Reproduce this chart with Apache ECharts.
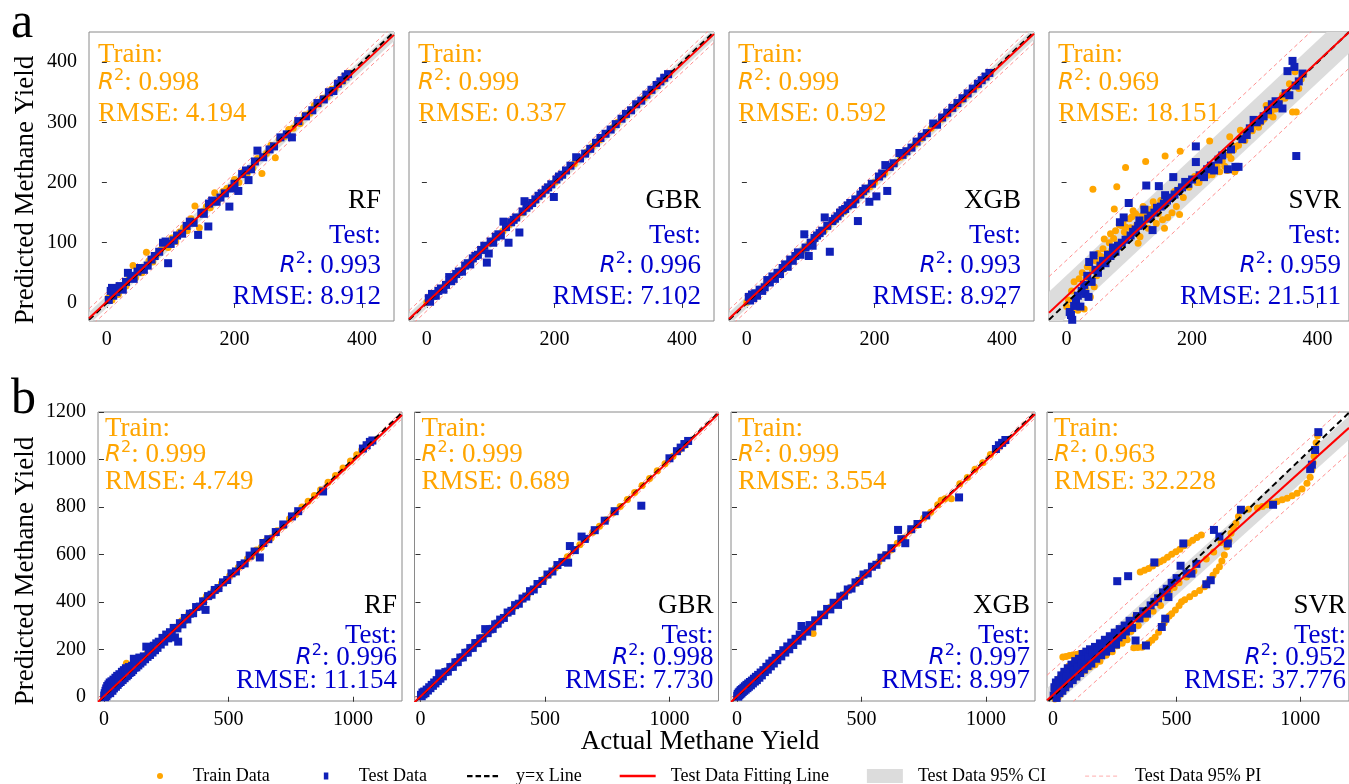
<!DOCTYPE html>
<html><head><meta charset="utf-8">
<script src="https://cdn.jsdelivr.net/npm/echarts@6.0.0/dist/echarts.min.js"></script>
<style>html,body{margin:0;padding:0;background:#fff;}#chart{width:1349px;height:784px;}</style>
</head><body><div id="chart"></div>
<script>
// ---------------- data ----------------
const MODELS = ['RF', 'GBR', 'XGB', 'SVR'];

// row a metrics
const A_TRAIN_R2 = ['0.998', '0.999', '0.999', '0.969'];
const A_TRAIN_RMSE = ['4.194', '0.337', '0.592', '18.151'];
const A_TEST_R2 = ['0.993', '0.996', '0.993', '0.959'];
const A_TEST_RMSE = ['8.912', '7.102', '8.927', '21.511'];
// row b metrics
const B_TRAIN_R2 = ['0.999', '0.999', '0.999', '0.963'];
const B_TRAIN_RMSE = ['4.749', '0.689', '3.554', '32.228'];
const B_TEST_R2 = ['0.996', '0.998', '0.997', '0.952'];
const B_TEST_RMSE = ['11.154', '7.730', '8.997', '37.776'];

// fitted test line [slope, intercept], CI and PI half widths
const A_FIT = [[0.985, 2], [0.99, 1], [0.99, 1.5], [0.975, 11]];
const A_CI = [10, 9, 10, 35];
const A_PI = [16, 14, 15, 60];
const B_FIT = [[0.99, 2], [0.995, 1], [0.993, 2], [0.94, 8]];
const B_CI = [9, 8, 9, 50];
const B_PI = [16, 14, 16, 105];

// axis ranges and ticks
const A_RANGE = [-28, 450, -30, 450];
const B_RANGE = [-24, 1197, -18, 1200];
const A_XTICKS = [0, 200, 400];
const A_YTICKS = [0, 100, 200, 300, 400];
const B_XTICKS = [0, 500, 1000];
const B_YTICKS = [0, 200, 400, 600, 800, 1000, 1200];

// ---- row a : points [actual, predicted]
const aRF_train = [[2,8],[5,12],[8,5],[10,15],[14,18],[18,14],[22,25],[26,30],[30,28],[35,40],[41,62],[45,42],[50,55],[55,50],[62,84],[66,70],[72,68],[78,80],[84,88],[90,95],[96,92],[102,108],[108,102],[114,118],[120,125],[126,120],[132,140],[138,161],[145,125],[150,152],[156,160],[162,158],[169,183],[175,172],[182,185],[188,190],[195,192],[200,205],[207,200],[214,218],[220,215],[229,224],[236,240],[243,215],[250,248],[257,262],[264,241],[270,272],[278,276],[285,288],[292,290],[298,300],[303,298],[310,312],[318,315],[325,328],[332,330],[338,340],[345,342],[352,355],[358,356],[364,366],[370,368],[375,378],[380,382]];
const aRF_test = [[3,5],[6,20],[8,25],[10,12],[12,22],[15,18],[20,28],[25,22],[30,35],[33,50],[38,45],[42,40],[48,52],[52,58],[58,55],[64,62],[70,72],[75,78],[82,85],[88,100],[92,102],[96,66],[100,98],[105,104],[110,112],[118,115],[125,128],[130,135],[136,133],[143,113],[148,150],[152,148],[159,127],[160,165],[165,170],[172,168],[178,175],[185,182],[192,160],[196,190],[200,198],[206,186],[212,214],[218,220],[222,204],[226,222],[232,235],[236,253],[245,242],[255,255],[262,260],[272,275],[282,280],[290,275],[300,302],[312,310],[322,320],[330,332],[340,338],[348,350],[355,352],[362,364],[368,370],[374,376],[378,380]];
const aGBR_train = [[0,1],[6,7],[11,11],[19,20],[27,27],[36,36],[44,45],[53,53],[61,62],[70,70],[79,80],[88,88],[99,99],[108,109],[119,119],[129,130],[141,141],[150,150],[161,162],[170,170],[181,181],[190,191],[201,201],[212,212],[219,220],[231,231],[240,241],[251,251],[259,260],[271,271],[280,281],[291,291],[299,300],[311,311],[320,321],[329,329],[341,341],[350,351],[359,359],[371,371],[380,381]];
const aGBR_test = [[3,8],[5,2],[8,15],[10,12],[14,12],[18,20],[22,24],[26,22],[30,30],[35,43],[38,36],[42,40],[46,48],[50,52],[55,52],[60,62],[64,66],[68,64],[72,74],[76,78],[80,80],[85,88],[90,95],[94,67],[97,82],[100,102],[104,100],[108,110],[112,114],[116,112],[120,135],[124,126],[128,100],[132,134],[136,138],[140,142],[145,117],[150,152],[153,169],[156,158],[160,162],[165,166],[170,172],[175,178],[180,182],[186,188],[190,192],[195,197],[199,176],[203,205],[207,210],[212,213],[218,220],[225,228],[234,242],[240,240],[248,248],[256,256],[265,266],[272,274],[280,281],[288,288],[296,297],[305,306],[312,314],[320,320],[328,330],[336,336],[344,346],[352,354],[360,362],[366,368],[372,374],[378,380]];
const aXGB_train = [[0,1],[7,8],[15,16],[24,23],[31,32],[40,40],[47,48],[57,56],[63,64],[72,72],[81,82],[88,88],[97,97],[105,104],[111,112],[121,120],[128,129],[137,136],[144,145],[153,152],[159,160],[168,168],[177,178],[184,184],[193,193],[200,200],[209,210],[216,216],[225,225],[232,232],[241,242],[248,248],[257,257],[264,264],[273,273],[280,280],[289,290],[296,296],[305,305],[312,312],[321,322],[328,328],[337,337],[344,344],[353,354],[360,360],[369,369],[376,376],[382,383]];
const aXGB_test = [[3,10],[5,4],[8,14],[10,8],[13,16],[16,12],[20,22],[24,20],[28,26],[32,38],[36,34],[40,44],[44,40],[48,50],[52,48],[56,58],[60,64],[64,60],[68,72],[72,70],[76,78],[80,84],[84,80],[90,114],[92,92],[97,78],[100,100],[103,95],[106,108],[110,112],[114,116],[118,120],[122,142],[126,128],[130,85],[134,136],[138,140],[142,144],[146,150],[150,154],[154,156],[158,162],[162,166],[166,164],[170,172],[174,136],[178,180],[182,186],[186,190],[192,168],[196,198],[203,177],[207,210],[212,215],[217,229],[220,186],[224,226],[230,232],[239,249],[244,246],[250,252],[258,258],[266,268],[274,276],[282,282],[292,298],[298,296],[306,308],[314,316],[322,324],[330,332],[338,340],[346,348],[354,356],[362,364],[368,370],[374,376],[380,382]];
const aSVR_train = [[0,-6],[3,5],[5,-14],[8,20],[10,-8],[12,35],[15,5],[18,-12],[20,40],[22,15],[25,50],[28,-10],[30,25],[33,60],[36,38],[38,10],[41,55],[42,189],[44,27],[46,70],[48,45],[50,82],[52,65],[55,77],[58,90],[60,106],[62,72],[65,82],[68,100],[70,115],[72,88],[75,107],[76,156],[78,120],[80,193],[82,98],[84,130],[86,93],[88,128],[90,135],[92,118],[94,126],[94,225],[96,110],[100,140],[102,125],[104,143],[106,153],[108,118],[110,148],[112,130],[114,99],[117,110],[120,145],[122,160],[124,135],[126,235],[128,150],[130,124],[133,155],[136,140],[138,168],[140,160],[143,132],[146,148],[150,170],[153,138],[156,124],[157,244],[160,165],[161,142],[165,175],[168,150],[172,185],[175,160],[180,147],[181,252],[182,192],[186,175],[190,200],[195,192],[200,205],[204,210],[208,200],[211,200],[215,209],[220,220],[225,212],[228,269],[232,213],[236,225],[240,226],[244,218],[248,235],[252,227],[256,220],[258,246],[260,276],[262,240],[266,254],[268,218],[270,260],[274,262],[277,287],[280,276],[284,270],[288,282],[292,290],[296,286],[298,303],[302,296],[306,292],[310,300],[314,305],[318,328],[322,312],[326,318],[329,309],[333,322],[336,330],[340,336],[344,345],[348,340],[352,350],[355,364],[360,317],[364,384],[366,317],[370,356],[374,372],[378,380]];
const aSVR_test = [[5,-15],[7,-20],[9,-28],[12,-5],[15,5],[18,12],[22,-6],[24,20],[28,30],[30,15],[33,45],[35,10],[36,68],[40,35],[43,79],[46,55],[50,50],[54,62],[58,70],[62,66],[66,80],[70,78],[74,92],[78,85],[82,95],[85,134],[88,100],[91,142],[94,105],[99,166],[102,112],[106,118],[110,122],[114,128],[116,137],[120,130],[124,155],[127,195],[130,140],[134,145],[137,121],[140,150],[144,158],[147,194],[150,160],[155,165],[157,179],[160,170],[165,175],[170,209],[172,180],[178,186],[184,192],[189,201],[194,198],[200,205],[206,234],[206,260],[212,212],[219,209],[224,222],[230,228],[235,220],[242,238],[248,245],[257,222],[262,255],[269,226],[274,226],[280,272],[287,279],[292,290],[298,304],[303,300],[308,303],[314,310],[321,320],[327,330],[333,335],[338,330],[344,323],[349,348],[352,385],[355,345],[360,402],[363,392],[365,361],[366,244],[370,368],[376,381]];

// ---- row b : points [actual, predicted]
const bRF_train = [[0,2],[2,10],[4,0],[6,16],[8,5],[10,22],[12,10],[14,28],[16,14],[18,32],[20,18],[24,36],[28,22],[32,42],[36,30],[40,50],[44,38],[48,58],[52,46],[56,64],[60,54],[65,72],[70,62],[75,82],[80,72],[85,92],[90,141],[95,100],[100,94],[108,116],[116,110],[124,132],[132,126],[140,148],[148,142],[156,164],[164,158],[172,180],[180,174],[190,198],[200,194],[212,220],[224,218],[236,244],[248,242],[260,268],[272,266],[285,293],[298,292],[312,320],[326,320],[340,348],[355,350],[370,378],[385,380],[400,408],[412,425],[425,422],[440,446],[456,452],[472,478],[488,486],[505,510],[522,520],[540,546],[558,556],[576,582],[594,592],[612,618],[632,630],[652,658],[672,670],[695,700],[720,718],[745,750],[770,768],[795,800],[820,824],[845,848],[870,872],[900,904],[930,932],[960,964],[990,994],[1015,1020],[1035,1040],[1050,1056],[1062,1068],[1075,1080]];
const bRF_test = [[1,5],[3,15],[4,-2],[6,25],[7,8],[9,35],[10,2],[12,18],[13,45],[15,10],[16,28],[18,52],[19,20],[21,38],[23,60],[25,15],[26,45],[28,30],[30,65],[32,40],[34,25],[36,55],[38,72],[40,35],[42,60],[44,48],[46,80],[48,42],[50,65],[53,88],[55,50],[57,70],[60,58],[62,95],[64,75],[67,62],[70,85],[72,105],[75,70],[78,90],[80,112],[83,78],[86,98],[88,120],[91,86],[94,105],[97,92],[100,125],[103,100],[106,118],[110,104],[113,130],[117,112],[120,160],[123,122],[127,140],[130,124],[134,150],[138,132],[142,165],[146,140],[150,158],[155,148],[160,170],[165,158],[170,211],[175,168],[180,190],[185,176],[190,205],[195,186],[200,215],[205,196],[210,225],[215,206],[220,232],[228,220],[235,248],[242,232],[250,262],[258,246],[265,272],[272,262],[280,290],[285,250],[295,288],[298,232],[305,310],[315,305],[325,332],[335,326],[345,350],[358,352],[370,378],[385,380],[398,402],[408,366],[418,424],[432,430],[445,450],[460,458],[478,482],[495,492],[512,520],[530,528],[548,555],[565,562],[585,595],[605,612],[626,587],[640,648],[660,664],[690,694],[720,726],[755,760],[780,782],[880,865],[1040,1046],[1055,1060],[1068,1074],[1078,1080]];
const bGBR_train = [[0,1],[3,4],[7,7],[11,12],[16,16],[21,21],[27,28],[33,33],[40,40],[47,48],[55,55],[63,63],[72,72],[81,82],[90,90],[100,100],[111,111],[122,123],[134,134],[146,146],[159,160],[172,172],[186,186],[200,201],[215,215],[230,230],[246,247],[262,262],[279,279],[296,297],[314,314],[332,332],[351,352],[370,370],[390,390],[410,411],[431,431],[452,452],[474,475],[496,496],[519,519],[542,543],[566,566],[590,590],[615,616],[640,640],[666,666],[692,693],[719,719],[746,746],[774,775],[802,802],[831,831],[860,861],[890,890],[920,920],[951,952],[982,982],[1014,1014],[1040,1041],[1058,1058],[1075,1076]];
const bGBR_test = [[2,8],[5,2],[8,18],[12,10],[15,22],[20,15],[25,30],[30,26],[35,40],[40,36],[45,50],[50,46],[55,60],[60,56],[65,70],[70,66],[75,98],[80,76],[85,90],[90,86],[100,104],[110,106],[120,125],[130,126],[140,145],[150,146],[160,165],[170,166],[180,185],[190,186],[200,205],[210,206],[220,226],[230,226],[240,245],[250,246],[260,285],[270,268],[280,284],[290,286],[300,305],[310,308],[320,325],[335,332],[350,355],[365,362],[380,386],[395,392],[410,414],[425,422],[440,445],[455,452],[470,475],[490,488],[510,515],[530,528],[550,555],[570,568],[593,565],[600,635],[620,618],[647,675],[660,665],[700,702],[740,742],[780,782],[887,805],[1000,1005],[1030,1035],[1045,1050],[1060,1065],[1075,1078]];
const bXGB_train = [[0,3],[3,6],[6,4],[10,14],[14,12],[19,22],[24,22],[30,34],[36,35],[43,46],[50,49],[58,61],[66,65],[75,78],[84,83],[94,97],[104,103],[115,118],[126,125],[138,141],[150,149],[163,166],[176,175],[190,193],[204,203],[219,222],[234,233],[250,253],[266,265],[283,286],[306,267],[318,317],[336,339],[355,354],[374,377],[394,393],[414,417],[435,434],[456,459],[478,477],[500,503],[523,522],[546,549],[570,569],[594,597],[619,618],[644,647],[670,669],[696,699],[723,722],[750,753],[778,777],[806,809],[820,828],[835,834],[861,834],[895,898],[925,924],[956,959],[987,986],[1018,1021],[1045,1046],[1062,1065],[1078,1080]];
const bXGB_test = [[1,4],[3,12],[5,0],[7,18],[9,6],[11,22],[13,10],[15,28],[18,14],[20,32],[23,20],[26,38],[29,25],[32,44],[35,30],[38,50],[42,36],[45,56],[48,42],[52,62],[56,48],[60,68],[64,56],[68,76],[72,64],[76,84],[80,70],[85,92],[90,80],[95,102],[100,90],[106,112],[112,104],[118,126],[124,114],[130,140],[136,128],[142,152],[148,140],[155,164],[162,154],[170,180],[178,170],[186,196],[194,186],[202,212],[210,200],[218,228],[226,218],[235,244],[244,236],[252,262],[259,298],[262,254],[272,282],[282,274],[292,302],[302,296],[314,322],[326,318],[338,346],[350,344],[362,370],[375,368],[388,396],[400,394],[406,387],[415,422],[430,426],[445,452],[460,456],[476,482],[492,488],[508,515],[525,520],[542,548],[560,556],[580,586],[600,596],[620,626],[647,703],[660,664],[676,647],[700,706],[725,728],[760,764],[892,840],[1040,1044],[1052,1060],[1065,1070],[1078,1082]];
const bSVR_train = [[2,0],[5,30],[8,-10],[10,45],[14,15],[18,60],[20,-5],[24,35],[28,80],[30,10],[34,55],[38,95],[40,167],[44,30],[48,75],[52,110],[53,170],[56,45],[60,90],[64,130],[67,174],[70,60],[75,105],[80,176],[80,140],[85,75],[90,120],[94,178],[95,160],[100,90],[107,181],[110,130],[115,100],[120,184],[125,145],[130,110],[134,186],[140,190],[145,160],[150,125],[160,200],[165,150],[170,135],[180,210],[185,170],[190,150],[194,218],[200,185],[210,235],[215,175],[220,200],[230,250],[235,210],[240,190],[250,265],[255,230],[260,215],[270,280],[275,245],[280,225],[290,300],[295,260],[300,240],[310,320],[315,275],[327,206],[335,340],[343,207],[345,300],[353,526],[360,209],[365,355],[370,533],[374,217],[375,330],[387,226],[387,540],[395,380],[400,238],[403,551],[405,360],[413,251],[420,562],[425,400],[427,272],[433,569],[435,385],[440,294],[447,576],[450,311],[450,420],[460,329],[463,588],[470,340],[470,445],[480,350],[480,601],[490,460],[495,365],[497,611],[510,480],[510,385],[513,622],[520,400],[530,636],[533,409],[540,505],[548,648],[553,421],[565,660],[570,530],[573,435],[582,671],[593,448],[600,682],[613,463],[620,580],[630,487],[647,512],[650,610],[660,530],[673,548],[680,650],[683,572],[693,597],[703,632],[712,660],[720,689],[730,712],[740,731],[750,760],[760,788],[790,790],[827,795],[847,802],[867,809],[887,816],[907,823],[927,830],[947,837],[967,847],[987,858],[1007,876],[1027,900],[1040,925],[1047,957],[1052,985],[1056,1013],[1060,1040],[1064,1070],[1070,1100]];
const bSVR_test = [[3,5],[6,40],[9,20],[12,60],[15,-5],[18,30],[22,70],[26,15],[30,50],[34,90],[38,25],[42,65],[46,105],[50,40],[55,80],[60,120],[65,55],[70,95],[75,135],[80,70],[85,110],[90,150],[95,85],[100,125],[105,160],[110,100],[115,140],[120,180],[125,115],[130,155],[135,190],[140,130],[145,170],[150,200],[155,140],[160,185],[170,210],[175,160],[180,195],[190,225],[195,175],[200,210],[210,240],[215,190],[220,225],[230,255],[235,205],[240,240],[250,270],[255,220],[260,487],[265,250],[270,285],[280,260],[290,300],[295,275],[304,508],[310,320],[320,290],[334,237],[340,340],[350,330],[365,360],[376,216],[380,350],[395,385],[410,566],[410,400],[425,415],[440,294],[445,440],[454,329],[460,455],[467,420],[480,480],[500,500],[516,552],[527,646],[540,520],[560,519],[580,560],[620,474],[638,491],[651,703],[673,675],[707,646],[760,788],[890,809],[1040,960],[1047,978],[1060,1040],[1073,1115]];

// ---------------- layout & style ----------------
const SERIF = '"Liberation Serif", "Times New Roman", serif';
const ORANGE = '#FFA500';
const BLUE_TXT = '#0000CD';
const BLUE_PT = '#1020B8';
const ROWS = [
  { lefts: [89, 409, 729, 1049], top: 32, width: 305, height: 289, range: A_RANGE, xt: A_XTICKS, yt: A_YTICKS,
    train: [aRF_train, aGBR_train, aXGB_train, aSVR_train], test: [aRF_test, aGBR_test, aXGB_test, aSVR_test],
    fit: A_FIT, ci: A_CI, pi: A_PI, trR2: A_TRAIN_R2, trRMSE: A_TRAIN_RMSE, teR2: A_TEST_R2, teRMSE: A_TEST_RMSE,
    trainDy: [23, 51, 82], testDy: [120, 85, 55, 24], padL: 9, padR: 13 },
  { lefts: [98, 414.5, 731, 1047], top: 412, width: 304, height: 289, range: B_RANGE, xt: B_XTICKS, yt: B_YTICKS,
    train: [bRF_train, bGBR_train, bXGB_train, bSVR_train], test: [bRF_test, bGBR_test, bXGB_test, bSVR_test],
    fit: B_FIT, ci: B_CI, pi: B_PI, trR2: B_TRAIN_R2, trRMSE: B_TRAIN_RMSE, teR2: B_TEST_R2, teRMSE: B_TEST_RMSE,
    trainDy: [17, 43, 70], testDy: [95, 65, 43, 20], padL: 7, padR: 5 }
];

function rich(color) {
  return {
    t: { fontFamily: SERIF, fontSize: 27, fill: color, lineHeight: 30 },
    ri: { fontFamily: 'DejaVu Sans', fontStyle: 'italic', fontSize: 23, fill: color, lineHeight: 30 },
    sup: { fontFamily: 'DejaVu Sans', fontSize: 16, fill: color, lineHeight: 18, verticalAlign: 'top' }
  };
}
function textEl(x, y, text, color, align) {
  return { type: 'text', x: x, y: y, silent: true, z: 100,
    style: { text: text, rich: rich(color), align: align, verticalAlign: 'middle' } };
}
const plainLabel = function (v) { return String(v); };

const grids = [], xAxes = [], yAxes = [], series = [], graphics = [];
let k = 0;
ROWS.forEach(function (R) {
  const [x0, x1, y0, y1] = R.range;
  for (let c = 0; c < 4; c++) {
    const gl = R.lefts[c], gt = R.top, gw = R.width, gh = R.height;
    grids.push({ left: gl, top: gt, width: gw, height: gh, show: true, borderColor: '#8a8a8a', borderWidth: 1, containLabel: false });
    xAxes.push({ type: 'value', gridIndex: k, min: x0, max: x1,
      axisLine: { show: false }, splitLine: { show: false },
      axisTick: { show: true, length: 5, lineStyle: { color: '#333' }, customValues: R.xt },
      axisLabel: { show: true, customValues: R.xt, formatter: plainLabel, margin: 9, fontFamily: SERIF, fontSize: 20, color: '#000' } });
    yAxes.push({ type: 'value', gridIndex: k, min: y0, max: y1,
      axisLine: { show: false }, splitLine: { show: false },
      axisTick: { show: true, length: 5, lineStyle: { color: '#333' }, customValues: R.yt },
      axisLabel: { show: c === 0, customValues: R.yt, formatter: plainLabel, margin: 12, fontFamily: SERIF, fontSize: 20, color: '#000' } });

    const [m, b] = R.fit[c];
    const f = function (x) { return m * x + b; };
    const ci = R.ci[c], pi = R.pi[c];
    const band = [[x0, f(x0) - ci, f(x0) + ci], [x1, f(x1) - ci, f(x1) + ci]];
    series.push({ type: 'custom', name: 'Test Data 95% CI', xAxisIndex: k, yAxisIndex: k, clip: true, silent: true, z: 1,
      itemStyle: { color: '#dcdcdc' }, data: band, encode: { x: 0, y: [1, 2] },
      renderItem: (function (bd) {
        return function (params, api) {
          if (params.dataIndex !== 0) return null;
          const pts = [api.coord([bd[0][0], bd[0][1]]), api.coord([bd[1][0], bd[1][1]]),
                       api.coord([bd[1][0], bd[1][2]]), api.coord([bd[0][0], bd[0][2]])];
          return { type: 'polygon', shape: { points: pts }, style: { fill: '#dcdcdc' } };
        };
      })(band) });
    [pi, -pi].forEach(function (off) {
      series.push({ type: 'line', name: 'Test Data 95% PI', xAxisIndex: k, yAxisIndex: k, silent: true, z: 2,
        symbol: 'none', showSymbol: false, clip: true, lineStyle: { color: '#ff8f8f', width: 1, type: [4, 3] }, itemStyle: { color: '#ffbdbd' },
        data: [[x0, f(x0) + off], [x1, f(x1) + off]] });
    });
    series.push({ type: 'scatter', name: 'Train Data', xAxisIndex: k, yAxisIndex: k, silent: true, z: 3,
      symbol: 'circle', symbolSize: 7, itemStyle: { color: ORANGE, opacity: 1 }, data: R.train[c] });
    series.push({ type: 'scatter', name: 'Test Data', xAxisIndex: k, yAxisIndex: k, silent: true, z: 4,
      symbol: 'rect', symbolSize: 8, itemStyle: { color: BLUE_PT, opacity: 1 }, data: R.test[c] });
    const lo = Math.max(x0, y0), hi = Math.min(x1, y1);
    series.push({ type: 'line', name: 'y=x Line', xAxisIndex: k, yAxisIndex: k, silent: true, z: 5,
      symbol: 'none', showSymbol: false, clip: true, lineStyle: { color: '#000', width: 2, type: [6, 4] }, itemStyle: { color: '#000' },
      data: [[lo, lo], [hi, hi]] });
    series.push({ type: 'line', name: 'Test Data Fitting Line', xAxisIndex: k, yAxisIndex: k, silent: true, z: 6,
      symbol: 'none', showSymbol: false, clip: true, lineStyle: { color: '#ff0000', width: 2 }, itemStyle: { color: '#ff0000' },
      data: [[x0, f(x0)], [x1, f(x1)]] });

    // annotations
    const lx = gl + R.padL, rx = gl + gw - R.padR, gb = gt + gh;
    graphics.push(textEl(lx, gt + R.trainDy[0], '{t|Train:}', ORANGE, 'left'));
    graphics.push(textEl(lx, gt + R.trainDy[1], '{ri|R}{sup|2}{t|: ' + R.trR2[c] + '}', ORANGE, 'left'));
    graphics.push(textEl(lx, gt + R.trainDy[2], '{t|RMSE: ' + R.trRMSE[c] + '}', ORANGE, 'left'));
    graphics.push(textEl(rx, gb - R.testDy[0], '{t|' + MODELS[c] + '}', '#000', 'right'));
    graphics.push(textEl(rx, gb - R.testDy[1], '{t|Test:}', BLUE_TXT, 'right'));
    graphics.push(textEl(rx, gb - R.testDy[2], '{ri|R}{sup|2}{t|: ' + R.teR2[c] + '}', BLUE_TXT, 'right'));
    graphics.push(textEl(rx, gb - R.testDy[3], '{t|RMSE: ' + R.teRMSE[c] + '}', BLUE_TXT, 'right'));
    k++;
  }
});

// panel letters and axis titles
graphics.push({ type: 'text', x: 11, y: 24, silent: true, style: { text: 'a', fontFamily: SERIF, fontSize: 50, fill: '#000', align: 'left', verticalAlign: 'middle' } });
graphics.push({ type: 'text', x: 11, y: 400, silent: true, style: { text: 'b', fontFamily: SERIF, fontSize: 50, fill: '#000', align: 'left', verticalAlign: 'middle' } });
[190, 571].forEach(function (cy) {
  graphics.push({ type: 'text', x: 26, y: cy, rotation: Math.PI / 2, silent: true,
    style: { text: 'Predicted Methane Yield', fontFamily: SERIF, fontSize: 27, fill: '#000', align: 'center', verticalAlign: 'middle' } });
});
graphics.push({ type: 'text', x: 700, y: 742, silent: true,
  style: { text: 'Actual Methane Yield', fontFamily: SERIF, fontSize: 27, fill: '#000', align: 'center', verticalAlign: 'middle' } });

const chart = echarts.init(document.getElementById('chart'), null, { renderer: 'canvas' });
chart.setOption({
  animation: false,
  backgroundColor: '#fff',
  grid: grids, xAxis: xAxes, yAxis: yAxes, series: series,
  graphic: { elements: graphics },
  legend: {
    left: 137, top: 762, itemWidth: 36, itemHeight: 14, itemGap: 38, selectedMode: false,
    itemStyle: { borderWidth: 0 },
    textStyle: { fontFamily: SERIF, fontSize: 18, color: '#000', padding: [0, 0, 0, 10] },
    data: [
      { name: 'Train Data', icon: 'path://M0,0M36,14M15,7a3,3 0 1,0 6,0a3,3 0 1,0 -6,0' },
      { name: 'Test Data', icon: 'path://M0,0M36,14M16,3.5h4.5v7h-4.5z' },
      { name: 'y=x Line', icon: 'path://M0,0M36,14M2,6h5.5v2.2h-5.5zM10.5,6h5.5v2.2h-5.5zM19,6h5.5v2.2h-5.5zM27.5,6h5.5v2.2h-5.5z' },
      { name: 'Test Data Fitting Line', icon: 'path://M0,0M36,14M0,5.8h36v2.5h-36z' },
      { name: 'Test Data 95% CI', icon: 'rect' },
      { name: 'Test Data 95% PI', icon: 'path://M0,0M36,14M1,6.5h4v1.2h-4zM8,6.5h4v1.2h-4zM15,6.5h4v1.2h-4zM22,6.5h4v1.2h-4zM29,6.5h4v1.2h-4z' }
    ]
  }
});
</script>
</body></html>
